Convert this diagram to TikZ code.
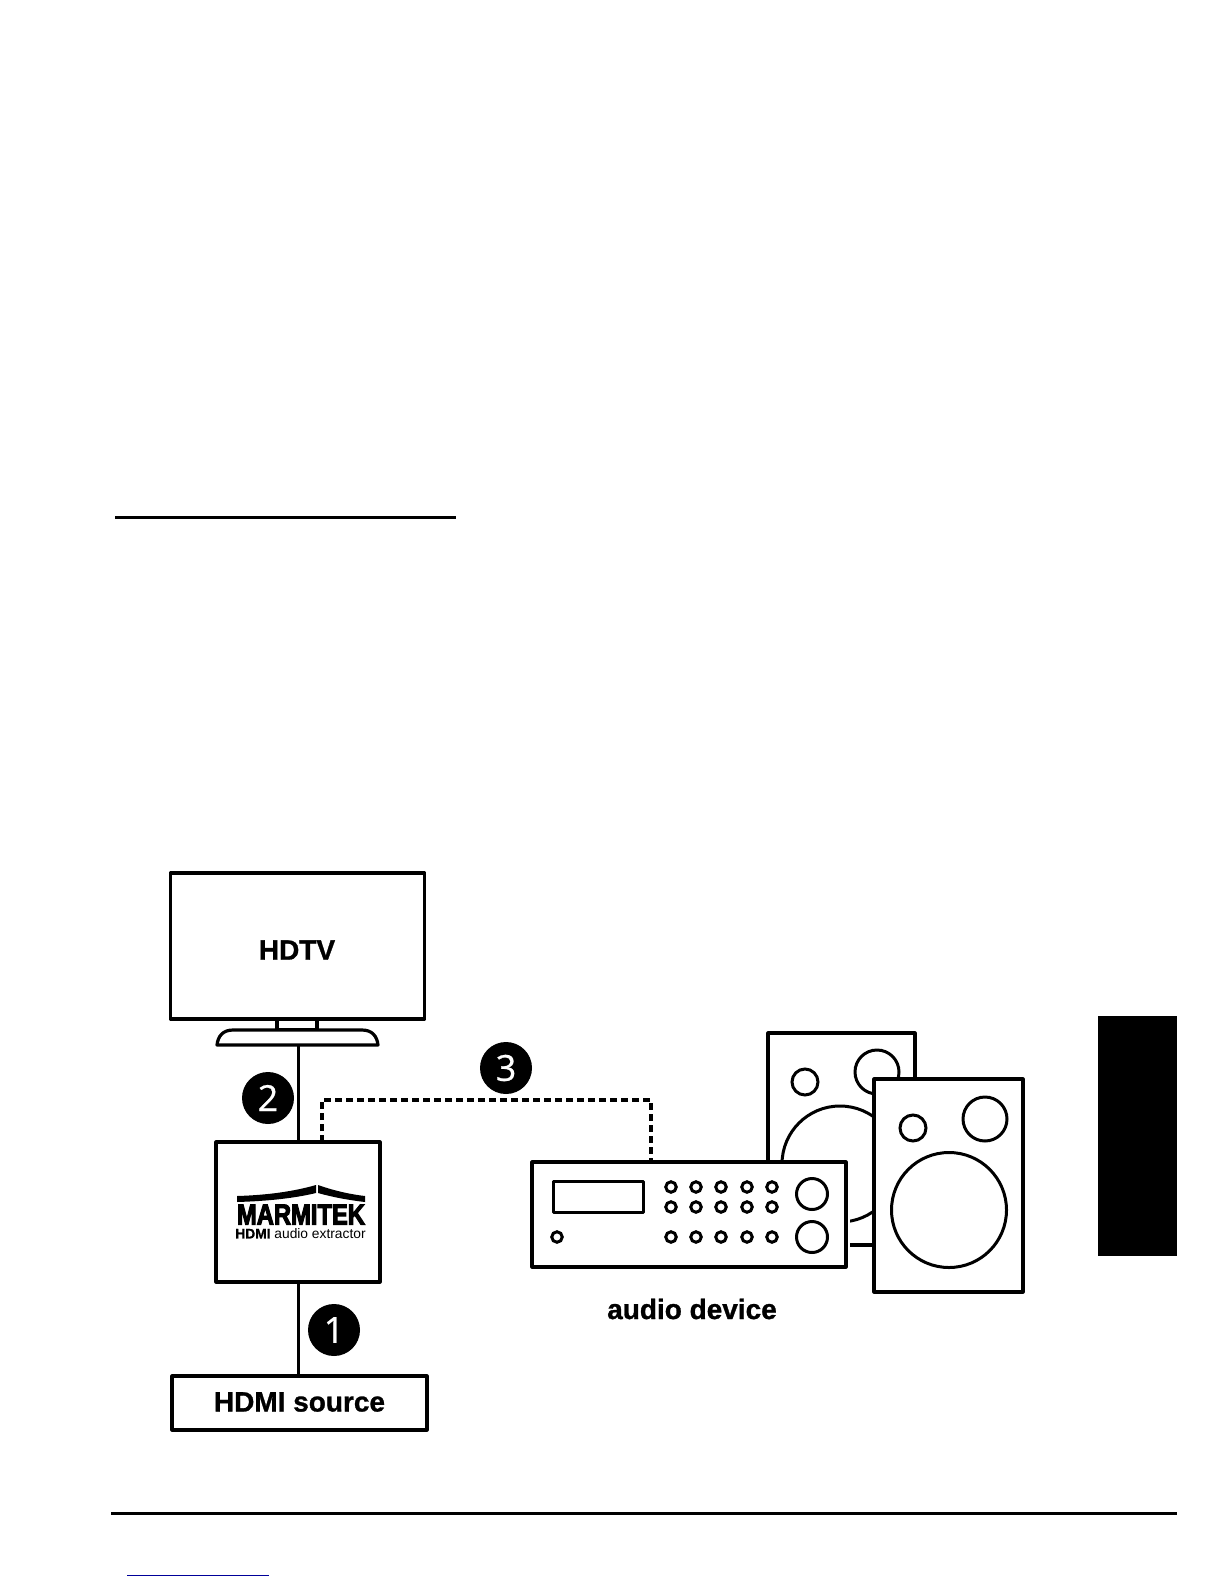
\documentclass[tikz,border=0pt]{standalone}
\usepackage{fontspec}
\setmainfont{Liberation Sans}[BoldFeatures={FakeBold=1}]
\newfontfamily\badgefont{Open Sans}[FakeBold=0.6]
\newfontfamily\logofont{Liberation Sans Bold}[FakeStretch=0.82,FakeBold=3.5]
\usetikzlibrary{positioning}
\usetikzlibrary{calc}

\tikzset{
	box/.style={draw, rectangle, fill=white, line width=3.2pt, inner sep=0pt, outer sep=0pt, line join=round},
	link/.style={line width=3pt},
	ring/.style={draw, circle, line width=3pt, inner sep=0pt, outer sep=0pt},
	badge/.style={circle, fill=black, text=white, minimum size=52pt, inner sep=0pt, font=\badgefont\fontsize{36}{36}\selectfont},
	title/.style={font=\bfseries\fontsize{28}{28}\selectfont}
}

\begin{document}
\begin{tikzpicture}[x=1pt, y=-1pt]
	\useasboundingbox (0,0) rectangle (1224,1584);

	% Page rules and the tab on the right
	\draw[line width=3pt] (115,517) -- (456,517);
	\draw[line width=3pt] (111,1513) -- (1177,1513);
	\draw[blue!60!black, line width=1pt] (127,1575) -- (269,1575);
	\fill[black] (1098,1016) rectangle (1177,1256);

	% Television
	\node[box, minimum width=254pt, minimum height=146pt, title] (tv) at (297.5,946) {};
	\node[title] (tvlabel) at (297,950) {HDTV};
	\node[box, minimum width=40pt, minimum height=11pt] (tvneck) at (297,1024.5) {};
	\draw[box] (217,1045) .. controls (218,1036) and (223,1030) .. (233,1030) -- (362,1030)
		.. controls (372,1030) and (377,1036) .. (378,1045) -- cycle;
	\coordinate (tvbase) at (298,1045);

	% Extractor with its logo
	\node[box, minimum width=164pt, minimum height=140pt] (extractor) at (298,1212) {};
	\fill[black] (237,1196) .. controls (270,1195) and (295,1191) .. (316,1185) -- (316,1193)
		.. controls (295,1198) and (270,1201) .. (237,1202) -- cycle;
	\fill[black] (318,1185) .. controls (332,1190) and (348,1194) .. (365,1196) -- (365,1202)
		.. controls (348,1200) and (332,1197) .. (318,1193) -- cycle;
	\node[font=\logofont\fontsize{29}{29}\selectfont, inner sep=0pt] (logo) at (301,1214.5) {MARMITEK};
	\node[font=\fontsize{13.8}{13.8}\selectfont, inner sep=0pt] (logotext) at (300.5,1233.5) {\textbf{HDMI} audio extractor};

	% Source
	\node[box, minimum width=255pt, minimum height=54pt] (source) at (299.5,1403) {};
	\node[title] (sourcelabel) at (299.5,1402) {HDMI source};

	% Speakers, back one first
	\node[box, minimum width=147pt, minimum height=212pt] (spkback) at (841.5,1139) {};
	\node[ring, minimum size=26pt] (bsmall) at (805,1082) {};
	\node[ring, minimum size=44pt] (bmid) at (877,1072) {};
	\node[ring, minimum size=116pt] (bbig) at (840,1164) {};
	\node[box, minimum width=149pt, minimum height=213pt] (spkfront) at (948.5,1185.5) {};
	\node[ring, minimum size=26pt] (fsmall) at (913,1128) {};
	\node[ring, minimum size=44pt] (fmid) at (985,1119) {};
	\node[ring, minimum size=115pt] (fbig) at (949,1210) {};

	% Audio device
	\fill[white] (843,1163) rectangle (850,1266);
	\node[box, minimum width=314pt, minimum height=105pt] (receiver) at (689,1214.5) {};
	\node[box, minimum width=90pt, minimum height=31pt, line width=3pt] (display) at (598,1196.5) {};
	\node[ring, minimum size=10.5pt] (led) at (557,1237) {};
	\foreach \x [count=\i] in {671,696,721,747,772}
		\foreach \y [count=\j] in {1187,1207,1237}
			{\node[ring, minimum size=10.5pt] (k\i\j) at (\x,\y) {};}
	\node[ring, minimum size=31pt] (volume) at (812,1194) {};
	\node[ring, minimum size=31pt] (tuner) at (812,1237) {};
	\node[title] (devicelabel) at (692,1309) {audio device};

	% Connections
	\coordinate (dashstart) at (322,1142);
	\coordinate (dashtop) at (651,1100);
	\coordinate (dashend) at (651,1162);
	\draw[link] (tvbase) -- (extractor.north);
	\draw[link] (extractor.south) -- (extractor.south |- source.north);
	\draw[line width=3.2pt, dash pattern=on 7pt off 4pt] (dashstart) |- (dashtop) -- (dashend);

	% Numbers
	\node[badge] (n1) at (334,1330) {1};
	\node[badge] (n2) at (268,1098) {2};
	\node[badge] (n3) at (506,1068) {3};
\end{tikzpicture}
\end{document}
